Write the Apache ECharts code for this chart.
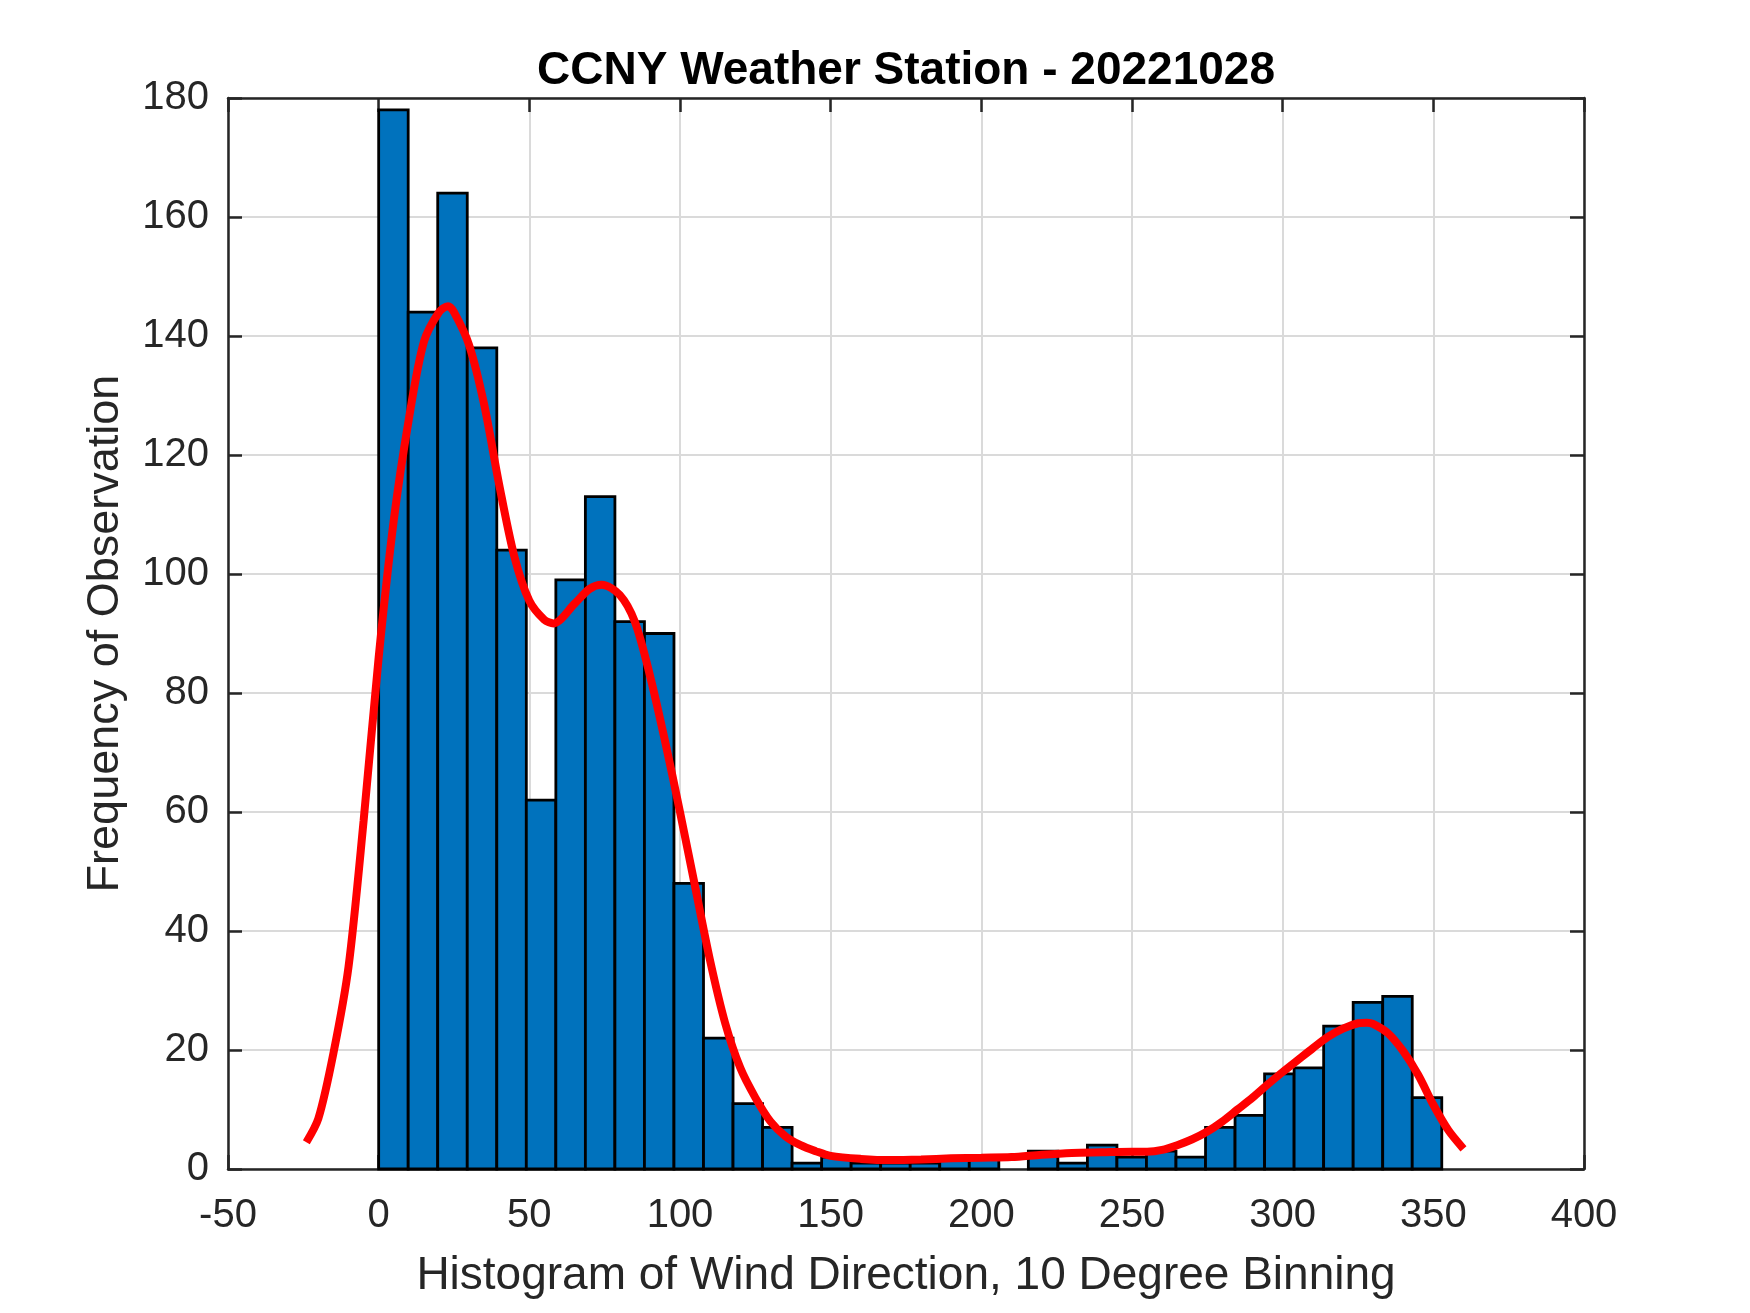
<!DOCTYPE html>
<html>
<head>
<meta charset="utf-8">
<script src="https://cdn.jsdelivr.net/npm/echarts@6/dist/echarts.min.js"></script>
<style>
html,body{margin:0;padding:0;background:#fff;}
#chart{width:1750px;height:1313px;}
</style>
</head>
<body>
<div id="chart"></div>
<script>
// Histogram bins (36 bins over the data range, width ~9.8 deg): bin start, bin end, count
const binStart = [0,9.8,19.6,29.4,39.2,49,58.8,68.6,78.4,88.2,98,107.8,117.6,127.4,137.2,147,156.8,166.6,176.4,186.2,196,205.8,215.6,225.4,235.2,245,254.8,264.6,274.4,284.2,294,303.8,313.6,323.4,333.2,343];
const binEnd   = [9.8,19.6,29.4,39.2,49,58.8,68.6,78.4,88.2,98,107.8,117.6,127.4,137.2,147,156.8,166.6,176.4,186.2,196,205.8,215.6,225.4,235.2,245,254.8,264.6,274.4,284.2,294,303.8,313.6,323.4,333.2,343,352.8];
const counts   = [178,144,164,138,104,62,99,113,92,90,48,22,11,7,1,2,1,1,1,2,2,0,3,1,4,2,3,2,7,9,16,17,24,28,29,12];

// Fitted density curve (red line)
const curveX = [-24,-20,-15,-10,-5,0,5,10,15,20,23,25,30,35,40,45,50,55,58,65,70,74,80,85,90,95,100,105,110,115,120,125,130,135,140,145,150,160,170,180,190,200,210,220,230,240,250,255,260,265,270,275,280,285,290,295,300,305,310,315,320,325,328,330,335,340,345,350,355,360];
const curveY = [4.5,8.5,19.5,34,58.5,86,109,126,139,144,145,144,138.5,128.5,115,103,95.5,92.3,91.7,95,97.5,98.2,96.5,92,83,72,60,47.5,35,24.5,17,12,8,5.5,4,3,2.2,1.7,1.5,1.6,1.8,1.9,2.0,2.4,2.7,2.8,2.9,2.9,3.2,4,5,6.3,8,10,12,14.2,16.3,18.3,20.3,22.2,23.6,24.5,24.6,24.4,22.8,19.8,15.8,10.8,6.5,3.4];

// Axis ticks
const xMin = -50, xMax = 400, xStep = 50;
const yMin = 0, yMax = 180, yStep = 20;

const titleText = 'CCNY Weather Station - 20221028';
const xLabel = 'Histogram of Wind Direction, 10 Degree Binning';
const yLabel = 'Frequency of Observation';

const FONT = '"Liberation Sans", Arial, Helvetica, sans-serif';
const AX = '#262626';

const histData = binStart.map((s, i) => [s, binEnd[i], counts[i]]);
const curveData = curveX.map((x, i) => [x, curveY[i]]);

const chart = echarts.init(document.getElementById('chart'));

const baseAxisLine = {show: true, onZero: false, lineStyle: {color: AX, width: 2.5}};
const baseTick = {show: true, inside: true, length: 14, lineStyle: {color: AX, width: 2.5}};
const gridLine = {show: true, lineStyle: {color: '#dadada', width: 2}};

chart.setOption({
  animation: false,
  backgroundColor: '#fff',
  title: {
    text: titleText,
    left: 901,
    top: 43,
    textAlign: 'center',
    textStyle: {fontFamily: FONT, fontSize: 46, fontWeight: 'bold', color: '#000'}
  },
  grid: {left: 228, right: 166, top: 98, bottom: 144, containLabel: false},
  xAxis: [{
    type: 'value', min: xMin, max: xMax, interval: xStep, position: 'bottom',
    axisLine: baseAxisLine, axisTick: baseTick, splitLine: gridLine,
    axisLabel: {fontFamily: FONT, fontSize: 40, color: AX, margin: 27},
    name: xLabel, nameLocation: 'middle', nameGap: 84,
    nameTextStyle: {fontFamily: FONT, fontSize: 46, color: AX}
  }, {
    type: 'value', min: xMin, max: xMax, interval: xStep, position: 'top',
    axisLine: baseAxisLine, axisTick: baseTick, splitLine: {show: false},
    axisLabel: {show: false}
  }],
  yAxis: [{
    type: 'value', min: yMin, max: yMax, interval: yStep, position: 'left',
    axisLine: baseAxisLine, axisTick: baseTick, splitLine: gridLine,
    axisLabel: {fontFamily: FONT, fontSize: 40, color: AX, margin: 19},
    name: yLabel, nameLocation: 'middle', nameGap: 100,
    nameTextStyle: {fontFamily: FONT, fontSize: 45, color: AX}
  }, {
    type: 'value', min: yMin, max: yMax, interval: yStep, position: 'right',
    axisLine: baseAxisLine, axisTick: baseTick, splitLine: {show: false},
    axisLabel: {show: false}
  }],
  series: [{
    type: 'custom',
    name: 'Histogram',
    xAxisIndex: 0, yAxisIndex: 0,
    data: histData,
    encode: {x: [0, 1], y: 2},
    z: 2,
    renderItem: function (params, api) {
      const v = api.value(2);
      if (!v) return null;
      const p0 = api.coord([api.value(0), v]);
      const p1 = api.coord([api.value(1), 0]);
      return {
        type: 'rect',
        shape: {x: p0[0], y: p0[1], width: p1[0] - p0[0], height: p1[1] - p0[1]},
        style: {fill: '#0072BD', stroke: '#000', lineWidth: 2.8}
      };
    }
  }, {
    type: 'line',
    name: 'Density fit',
    xAxisIndex: 0, yAxisIndex: 0,
    data: curveData,
    showSymbol: false,
    smooth: 0.3,
    z: 5,
    clip: false,
    lineStyle: {color: '#ff0000', width: 8}
  }]
});
</script>
</body>
</html>
